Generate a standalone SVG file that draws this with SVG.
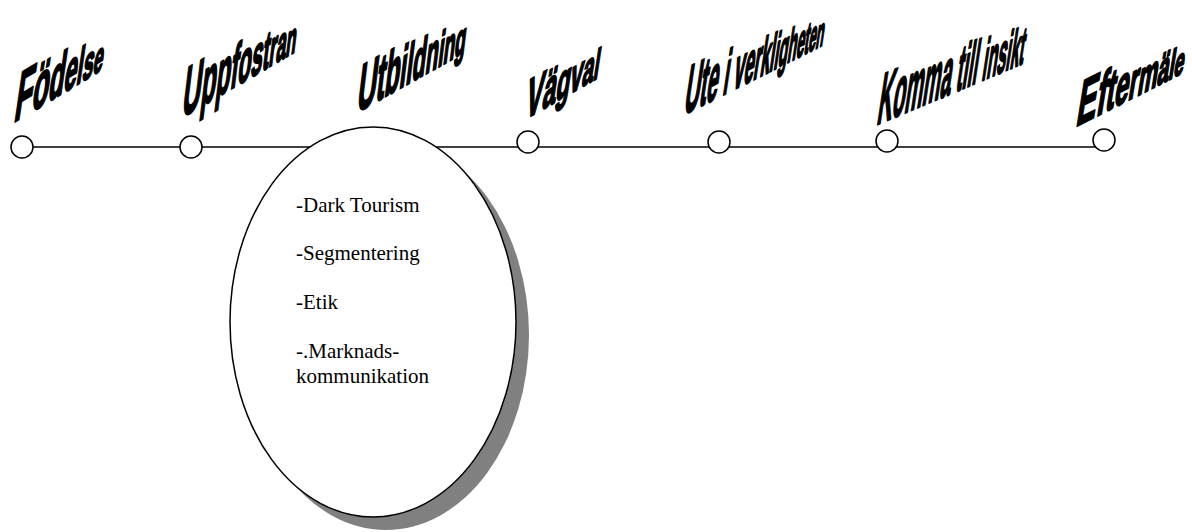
<svg xmlns="http://www.w3.org/2000/svg" width="1192" height="532" viewBox="0 0 1192 532">
  <style>
    .bg { fill: #ffffff; }
    .axis { stroke: #000000; stroke-width: 1.5; fill: none; }
    .stop { fill: #ffffff; stroke: #000000; stroke-width: 1.5; }
    .bubble { fill: #ffffff; stroke: #000000; stroke-width: 1.5; }
    .shadow { fill: #808080; stroke: none; }
    .wa { font-family: "Liberation Sans", Arial, sans-serif; font-weight: bold; fill: #000000; stroke: #000000; stroke-width: 2.2; stroke-linejoin: round; }
    .body { font-family: "Liberation Serif", "Times New Roman", serif; font-size: 21px; fill: #000000; }
  </style>

  <rect class="bg" x="0" y="0" width="1192" height="532"/>

  <!-- timeline axis -->
  <g id="connectors">
    <line class="axis" x1="22" y1="147" x2="1104" y2="147"/>
  </g>

  <!-- Utbildning detail bubble with drop shadow -->
  <g id="bubble-utbildning">
    <ellipse class="shadow" cx="386" cy="335" rx="143" ry="195"/>
    <ellipse class="bubble" cx="373" cy="322" rx="143" ry="195"/>
    <text class="body" x="296" y="212">-Dark Tourism</text>
    <text class="body" x="296" y="260">-Segmentering</text>
    <text class="body" x="296" y="309">-Etik</text>
    <text class="body" x="296" y="358">-.Marknads-</text>
    <text class="body" x="296" y="383">kommunikation</text>
  </g>

  <!-- stations on the timeline, each with a slanted heading -->
  <g id="node-fodelse">
    <circle class="stop" cx="22" cy="147" r="11"/>
    <text class="wa" transform="matrix(0.46,-0.276,-0.17,1.15,13,123)"><tspan font-size="63">F</tspan><tspan font-size="59">ö</tspan><tspan font-size="55">d</tspan><tspan font-size="50">e</tspan><tspan font-size="46">l</tspan><tspan font-size="42">s</tspan><tspan font-size="38">e</tspan></text>
  </g>

  <g id="node-uppfostran">
    <circle class="stop" cx="191" cy="147" r="11"/>
    <text class="wa" transform="matrix(0.41,-0.238,-0.14,1.15,181,118)"><tspan font-size="63">U</tspan><tspan font-size="60">p</tspan><tspan font-size="58">p</tspan><tspan font-size="55">f</tspan><tspan font-size="53">o</tspan><tspan font-size="50">s</tspan><tspan font-size="48">t</tspan><tspan font-size="45">r</tspan><tspan font-size="43">a</tspan><tspan font-size="40">n</tspan></text>
  </g>

  <g id="node-utbildning">
    <text class="wa" transform="matrix(0.44,-0.246,-0.14,1.15,356,113)"><tspan font-size="60">U</tspan><tspan font-size="58">t</tspan><tspan font-size="56">b</tspan><tspan font-size="53">i</tspan><tspan font-size="51">l</tspan><tspan font-size="49">d</tspan><tspan font-size="47">n</tspan><tspan font-size="44">i</tspan><tspan font-size="42">n</tspan><tspan font-size="40">g</tspan></text>
  </g>

  <g id="node-vagval">
    <circle class="stop" cx="528" cy="142" r="11"/>
    <text class="wa" transform="matrix(0.46,-0.262,-0.16,1.05,524,120)"><tspan font-size="56">V</tspan><tspan font-size="53">ä</tspan><tspan font-size="50">g</tspan><tspan font-size="48">v</tspan><tspan font-size="45">a</tspan><tspan font-size="42">l</tspan></text>
  </g>

  <g id="node-ute">
    <circle class="stop" cx="719" cy="142" r="11"/>
    <text class="wa" transform="matrix(0.36,-0.18,-0.18,1.2,683,115)" xml:space="preserve"><tspan font-size="59">U</tspan><tspan font-size="57.6">t</tspan><tspan font-size="56.2">e</tspan><tspan font-size="54.8"> </tspan><tspan font-size="53.4">i</tspan><tspan font-size="51.9"> </tspan><tspan font-size="50.5">v</tspan><tspan font-size="49.1">e</tspan><tspan font-size="47.7">r</tspan><tspan font-size="46.3">k</tspan><tspan font-size="44.9">l</tspan><tspan font-size="43.5">i</tspan><tspan font-size="42.1">g</tspan><tspan font-size="40.6">h</tspan><tspan font-size="39.2">e</tspan><tspan font-size="37.8">t</tspan><tspan font-size="36.4">e</tspan><tspan font-size="35">n</tspan></text>
  </g>

  <g id="node-insikt">
    <circle class="stop" cx="887" cy="141" r="11"/>
    <text class="wa" transform="matrix(0.315,-0.132,-0.17,1.12,876,125)" xml:space="preserve"><tspan font-size="66">K</tspan><tspan font-size="64.9">o</tspan><tspan font-size="63.8">m</tspan><tspan font-size="62.6">m</tspan><tspan font-size="61.5">a</tspan><tspan font-size="60.4"> </tspan><tspan font-size="59.3">t</tspan><tspan font-size="58.1">i</tspan><tspan font-size="57">l</tspan><tspan font-size="55.9">l</tspan><tspan font-size="54.8"> </tspan><tspan font-size="53.6">i</tspan><tspan font-size="52.5">n</tspan><tspan font-size="51.4">s</tspan><tspan font-size="50.3">i</tspan><tspan font-size="49.1">k</tspan><tspan font-size="48">t</tspan></text>
  </g>

  <g id="node-eftermale">
    <circle class="stop" cx="1104" cy="140" r="11"/>
    <text class="wa" transform="matrix(0.505,-0.253,-0.18,1.12,1075,127)"><tspan font-size="59">E</tspan><tspan font-size="56">f</tspan><tspan font-size="53">t</tspan><tspan font-size="50">e</tspan><tspan font-size="47">r</tspan><tspan font-size="44">m</tspan><tspan font-size="41">ä</tspan><tspan font-size="38">l</tspan><tspan font-size="35">e</tspan></text>
  </g>
</svg>
